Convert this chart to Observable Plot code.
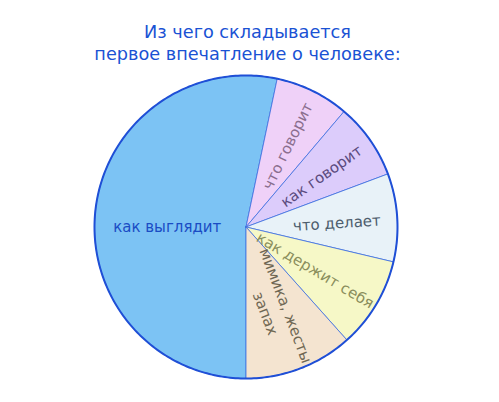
<!DOCTYPE html>
<html>
<head>
<meta charset="utf-8">
<script src="https://cdn.jsdelivr.net/npm/d3@7"></script>
<script src="https://cdn.jsdelivr.net/npm/@observablehq/plot@0.6"></script>
<style>
  html, body { margin: 0; padding: 0; background: #fff; }
  #wrap { width: 499px; }
  #title { text-align: center; font-family: "DejaVu Sans", Verdana, sans-serif; font-size: 17.7px; line-height: 22px; color: #1a52d4; padding-top: 21px; height: 47px; margin-left: -4px; }
</style>
</head>
<body>
<div id="wrap">
  <div id="title">Из чего складывается<br>первое впечатление о человеке:</div>
  <div id="chart"></div>
</div>
<script>
const titleLines = ["Из чего складывается", "первое впечатление о человеке:"];
const labels = ["как выглядит", "что говорит", "как говорит", "что делает", "как держит себя", "мимика, жесты\nзапах"];
const shares = [53.3, 7.9, 8.1, 9.4, 9.7, 11.6];
const sliceColors = ["#7cc3f4", "#efd1f8", "#dcccfb", "#e8f2f8", "#f6f8c7", "#f4e4d0"];
const labelColors = ["#1a4cc4", "#8a6e8e", "#5b4b7e", "#4d5d6d", "#8a8e5c", "#6f6753"];

const W = 499, H = 334, R = 151.5;
const cx = 245.5, cy = 158.5;
const FS = 15;

const ctx = document.createElement("canvas").getContext("2d");
ctx.font = FS + "px 'DejaVu Sans'";
const textW = s => d3.max(s.split("\n"), l => ctx.measureText(l).width);

const arcs = d3.pie().sort(null).startAngle(Math.PI).endAngle(3 * Math.PI)(shares);

const polyPts = [];
arcs.forEach((a, i) => {
  polyPts.push({k: i, x: 0, y: 0});
  const n = Math.max(8, Math.ceil((a.endAngle - a.startAngle) / 0.01));
  for (let j = 0; j <= n; j++) {
    const t = a.startAngle + (a.endAngle - a.startAngle) * j / n;
    polyPts.push({k: i, x: R * Math.sin(t), y: R * Math.cos(t)});
  }
  polyPts.push({k: i, x: 0, y: 0});
});

const rim = d3.range(0, 361).map(d => {
  const t = d * Math.PI / 180;
  return {x: R * Math.sin(t), y: R * Math.cos(t)};
});

const maxI = d3.maxIndex(shares);
const labelData = arcs.map((a, i) => {
  let mid = (a.startAngle + a.endAngle) / 2;
  let r = Math.min(0.6 * R, R - textW(labels[i]) / 2 - 3), rot = mid * 180 / Math.PI - 90;
  if (i === maxI) { mid = 1.5 * Math.PI + 0.03; r = 0.52 * R; rot = 0; }
  else {
    rot = ((rot % 360) + 360) % 360; if (rot > 180) rot -= 360;
  }
  return {i, text: labels[i], x: r * Math.sin(mid), y: r * Math.cos(mid), rot};
});

const chart = Plot.plot({
  width: W, height: H,
  margin: 0,
  x: {domain: [-cx, W - cx], axis: null},
  y: {domain: [-(H - cy), cy], axis: null},
  style: {fontFamily: "'DejaVu Sans', Verdana, sans-serif", background: "white"},
  marks: [
    Plot.line(polyPts, {x: "x", y: "y", z: "k",
      fill: {value: d => sliceColors[d.k], scale: null},
      stroke: "#3e6fe0", strokeWidth: 0.8}),
    Plot.line(rim, {x: "x", y: "y", stroke: "#1f4fd6", strokeWidth: 2}),
    Plot.text(labelData, {x: "x", y: "y", text: "text",
      rotate: "rot",
      fill: {value: d => labelColors[d.i], scale: null},
      fontSize: FS, textAnchor: "middle", lineAnchor: "middle", lineHeight: 1.45})
  ]
});
document.getElementById("chart").appendChild(chart);
</script>
</body>
</html>
